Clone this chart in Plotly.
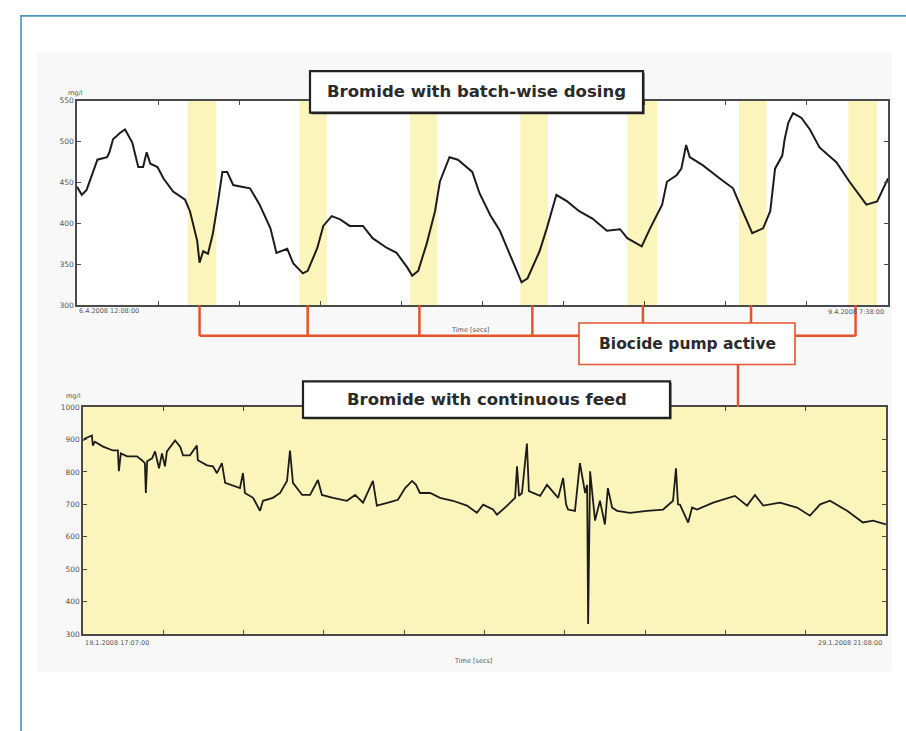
import plotly.graph_objects as go

W, H = 906, 731

# ---------------- data ----------------
# Top chart: bromide with batch-wise dosing (hours since 6.4.2008 12:08:00)
batch_hours = [0.0, 0.4, 0.8, 1.3, 1.7, 2.5, 2.7, 3.0, 3.6, 4.0,
               4.2, 4.6, 5.1, 5.5, 5.8, 6.1, 6.7, 7.2, 8.0, 9.0,
               9.4, 10.0, 10.2, 10.5, 10.9, 11.3, 11.7, 12.1, 12.5, 13.0,
               13.7, 14.4, 15.2, 16.1, 16.6, 17.5, 18.0, 18.8, 19.2, 20.0,
               20.5, 21.2, 21.9, 22.7, 23.8, 24.6, 25.8, 26.6, 27.5, 27.9,
               28.4, 29.1, 29.8, 30.2, 31.0, 31.7, 32.9, 33.5, 34.4, 35.2,
               37.0, 37.5, 38.5, 39.1, 39.9, 40.8, 41.8, 42.9, 44.1, 45.2,
               45.8, 47.0, 47.7, 48.7, 49.1, 49.9, 50.3, 50.7, 51.0, 52.1,
               53.5, 54.6, 55.4, 56.2, 57.1, 57.7, 58.1, 58.7, 58.9, 59.2,
               59.6, 60.3, 61.0, 61.8, 63.2, 64.3, 65.7, 66.6, 67.5]
batch_mgl = [445, 435, 441, 463, 478, 481, 487, 503, 511, 515,
             509, 499, 469, 469, 487, 473, 469, 455, 439, 429,
             415, 379, 352, 366, 363, 387, 423, 463, 463, 447,
             445, 443, 423, 394, 364, 369, 351, 339, 342, 370,
             397, 409, 405, 397, 397, 382, 370, 364, 346, 336,
             342, 375, 415, 451, 481, 478, 463, 437, 410, 391,
             328, 333, 366, 394, 435, 427, 415, 406, 391, 393,
             382, 372, 394, 423, 451, 459, 467, 496, 481, 471,
             455, 443, 415, 388, 394, 415, 467, 483, 503, 523,
             535, 529, 515, 493, 475, 451, 423, 427, 455]
batch_total_hours = 67.5
# biocide pump active periods (hours)
pump_start = [9.2, 18.5, 27.7, 36.9, 45.8, 55.1, 64.2]
pump_end = [11.6, 20.8, 30.0, 39.2, 48.3, 57.4, 66.6]
pump_marker = [10.2, 19.2, 28.5, 37.9, 47.1, 56.1, 64.8]

# Bottom chart: bromide with continuous feed (hours since 19.1.2008 17:07:00)
cont_hours = [0.0, 0.6, 2.7, 3.0, 3.6, 6.1, 9.1, 10.6, 10.9, 11.5,
              13.4, 16.4, 17.9, 18.8, 19.1, 19.5, 21.0, 21.9, 23.1, 24.0,
              24.9, 25.5, 28.0, 29.5, 30.4, 32.5, 34.6, 34.9, 37.7, 39.5,
              40.7, 42.2, 43.2, 45.6, 47.7, 48.6, 49.2, 51.7, 53.8, 54.7,
              57.7, 59.9, 62.0, 62.9, 63.8, 66.6, 69.0, 71.4, 72.6, 76.0,
              80.2, 82.7, 85.1, 88.1, 89.3, 92.7, 95.7, 97.9, 100.0, 101.2,
              102.4, 105.5, 108.5, 112.4, 116.7, 119.7, 121.6, 124.6, 125.8, 128.9,
              131.3, 131.9, 132.5, 133.4, 134.9, 135.5, 138.9, 141.0, 142.5, 144.4,
              145.9, 146.8, 147.4, 149.5, 151.0, 152.6, 153.2, 153.5, 154.1, 155.6,
              157.1, 158.6, 159.5, 160.8, 162.3, 166.2, 171.4, 176.3, 179.3, 180.2,
              180.8, 181.4, 183.9, 185.1, 186.6, 191.5, 198.1, 201.8, 204.2, 206.7,
              211.8, 217.0, 220.9, 224.0, 227.0, 232.2, 237.0, 240.1, 244.0]
cont_mgl = [897, 903, 912, 881, 893, 878, 866, 866, 802, 857,
            848, 848, 836, 827, 735, 833, 842, 863, 811, 857,
            817, 863, 897, 878, 851, 851, 881, 836, 820, 817,
            796, 827, 766, 757, 750, 796, 735, 720, 680, 711,
            720, 735, 772, 866, 766, 729, 729, 775, 729, 720,
            711, 729, 705, 772, 696, 705, 714, 750, 772, 760,
            735, 735, 720, 711, 696, 674, 699, 684, 668, 696,
            720, 817, 726, 735, 887, 741, 726, 760, 741, 720,
            781, 700, 684, 680, 827, 735, 760, 331, 802, 650,
            711, 638, 750, 690, 680, 674, 680, 684, 711, 811,
            700, 699, 644, 690, 684, 705, 726, 696, 729, 696,
            705, 690, 665, 700, 711, 680, 644, 650, 638]
cont_total_hours = 244.02

top_yticks = [300, 350, 400, 450, 500, 550]
bot_yticks = [300, 400, 500, 600, 700, 800, 900, 1000]
top_dates = ["6.4.2008 12:08:00", "9.4.2008 7:38:00"]
bot_dates = ["19.1.2008 17:07:00", "29.1.2008 21:08:00"]
unit_label = "mg/l"
time_label = "Time [secs]"
title_top = "Bromide with batch-wise dosing"
title_bot = "Bromide with continuous feed"
pump_label = "Biocide pump active"

# ---------------- helpers (pixel -> paper) ----------------
def px(x):
    return x / W

def py(y):
    return 1 - y / H

LINE = "#1c1c1c"
AXC = "#4a4a4a"
YEL = "#fbf4bb"
RED = "#e4532c"
BOXTXT = "#2b2b2b"
SMALL = dict(family="DejaVu Sans, sans-serif", size=6.5, color="#555555")
TICKF = dict(family="DejaVu Sans, sans-serif", size=7.5, color="#555555")
BIG = dict(family="DejaVu Sans, sans-serif", size=16.5, color=BOXTXT)

fig = go.Figure()
fig.add_trace(go.Scatter(x=batch_hours, y=batch_mgl, mode="lines",
                         line=dict(color=LINE, width=2),
                         xaxis="x", yaxis="y", showlegend=False, hoverinfo="skip"))
fig.add_trace(go.Scatter(x=cont_hours, y=cont_mgl, mode="lines",
                         line=dict(color=LINE, width=1.8),
                         xaxis="x2", yaxis="y2", showlegend=False, hoverinfo="skip"))

axis_common = dict(showgrid=False, zeroline=False, showline=True, linecolor=AXC,
                   linewidth=1.5, mirror="allticks", ticks="inside", ticklen=4,
                   tickcolor=AXC, tickwidth=1)

fig.update_layout(
    width=W, height=H, margin=dict(l=0, r=0, t=0, b=0),
    paper_bgcolor="white", plot_bgcolor="rgba(0,0,0,0)", showlegend=False,
    xaxis=dict(domain=[px(77), px(888)], range=[0, batch_total_hours],
               tickvals=[batch_total_hours * i / 10 for i in range(11)],
               showticklabels=False, anchor="y", **axis_common),
    yaxis=dict(domain=[py(305), py(98)], range=[300, 550], tickvals=top_yticks,
               tickfont=TICKF, anchor="x", **axis_common),
    xaxis2=dict(domain=[px(83), px(886)], range=[0, cont_total_hours],
                tickvals=[cont_total_hours * i / 10 for i in range(11)],
                showticklabels=False, anchor="y2", **axis_common),
    yaxis2=dict(domain=[py(638), py(408)], range=[300, 1000], tickvals=bot_yticks,
                tickfont=TICKF, anchor="x2", **axis_common),
)

shapes = []
# light scanned backdrop
shapes.append(dict(type="rect", xref="paper", yref="paper", x0=px(37), x1=px(892),
                   y0=py(676), y1=py(48), fillcolor="#f8f8f8", line=dict(width=0),
                   layer="below"))
# plot area fills
shapes.append(dict(type="rect", xref="x domain", yref="y domain", x0=0, x1=1, y0=0, y1=1,
                   fillcolor="white", line=dict(width=0), layer="below"))
shapes.append(dict(type="rect", xref="x2 domain", yref="y2 domain", x0=0, x1=1, y0=0, y1=1,
                   fillcolor=YEL, line=dict(width=0), layer="below"))
# pump bands
for s, e in zip(pump_start, pump_end):
    shapes.append(dict(type="rect", xref="x", yref="y domain", x0=s, x1=e, y0=0, y1=1,
                       fillcolor=YEL, line=dict(width=0), layer="below"))
# red connectors
for c in pump_marker:
    shapes.append(dict(type="line", xref="x", yref="paper", x0=c, x1=c,
                       y0=py(305), y1=py(336), line=dict(color=RED, width=2.5),
                       layer="above"))
shapes.append(dict(type="line", xref="x", yref="paper", x0=pump_marker[0], x1=pump_marker[-1],
                   y0=py(336), y1=py(336), line=dict(color=RED, width=2.5), layer="above"))
shapes.append(dict(type="line", xref="paper", yref="paper", x0=px(738), x1=px(738),
                   y0=py(344), y1=py(408), line=dict(color=RED, width=2.5), layer="above"))
# pump box
shapes.append(dict(type="rect", xref="paper", yref="paper", x0=px(579), x1=px(795),
                   y0=py(365), y1=py(323), fillcolor="white",
                   line=dict(color=RED, width=1.6), layer="above"))
# title boxes (with shadow)
for (x0, x1, y0, y1) in [(310, 643, 68, 110), (303, 670, 382, 419)]:
    shapes.append(dict(type="rect", xref="paper", yref="paper", x0=px(x0 + 1.5), x1=px(x1 + 1.5),
                       y0=py(y1 + 1.5), y1=py(y0 + 1.5), fillcolor="#222222",
                       line=dict(width=0), layer="above"))
    shapes.append(dict(type="rect", xref="paper", yref="paper", x0=px(x0), x1=px(x1),
                       y0=py(y1), y1=py(y0), fillcolor="white",
                       line=dict(color="#222222", width=2.2), layer="above"))
# outer blue frame
shapes.append(dict(type="rect", xref="paper", yref="paper", x0=px(21), x1=px(920),
                   y0=py(745), y1=py(12), line=dict(color="#4b98b6", width=1.6),
                   fillcolor="rgba(0,0,0,0)", layer="above"))
fig.update_layout(shapes=shapes)

ann = []
def text(x, y, t, font, xanchor="center", yanchor="middle"):
    ann.append(dict(x=px(x), y=py(y), xref="paper", yref="paper", text=t, showarrow=False,
                    font=font, xanchor=xanchor, yanchor=yanchor))

text(476.5, 89, "<b>" + title_top + "</b>", BIG)
text(486.5, 400.5, "<b>" + title_bot + "</b>", BIG)
text(687, 344, "<b>" + pump_label + "</b>",
     dict(family="DejaVu Sans, sans-serif", size=15.5, color=BOXTXT))
text(75, 90, unit_label, SMALL)
text(73, 397, unit_label, SMALL)
text(77, 311, top_dates[0], SMALL, xanchor="left")
text(886, 312, top_dates[1], SMALL, xanchor="right")
text(470, 330, time_label, SMALL)
text(83, 647, bot_dates[0], SMALL, xanchor="left")
text(884, 647, bot_dates[1], SMALL, xanchor="right")
text(473, 665, time_label, SMALL)
fig.update_layout(annotations=ann)

fig.write_html("out.html",
               config={"displayModeBar": False},
               post_script="document.body.style.margin='0px';document.body.style.overflow='hidden';")
